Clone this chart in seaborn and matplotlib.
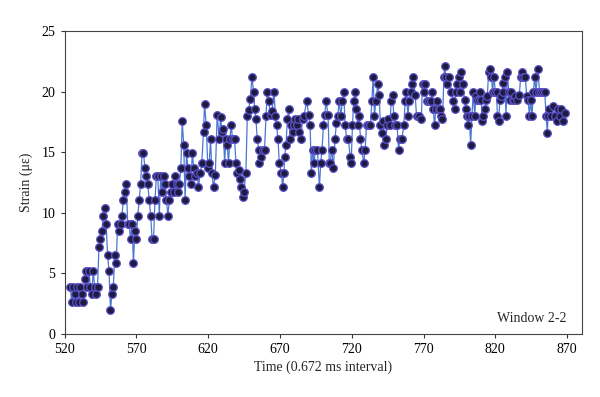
import matplotlib
matplotlib.use("Agg")
import matplotlib.pyplot as plt
import seaborn as sns
import pandas as pd

# ---- data ----
time_a = list(range(524, 612))
strain_a = [3.9, 2.6, 3.9, 3.25, 2.6, 3.9, 2.6, 3.9, 3.25, 2.6,
            4.55, 5.2, 3.9, 5.2, 3.9, 3.25, 5.2, 3.9, 3.25, 3.9,
            7.15, 7.8, 8.45, 9.75, 10.4, 9.1, 6.5, 5.2, 1.95, 3.25,
            3.9, 6.5, 5.85, 9.1, 8.45, 9.1, 9.75, 11.05, 11.7, 12.35,
            9.1, 9.1, 7.8, 9.1, 5.85, 8.45, 7.8, 9.75, 11.05, 12.35,
            14.95, 14.95, 13.65, 13.0, 12.35, 11.05, 9.75, 7.8, 7.8, 11.05,
            13.0, 13.0, 9.75, 13.0, 11.7, 13.0, 12.35, 11.05, 9.75, 11.05,
            11.7, 12.35, 11.7, 13.0, 12.35, 11.7, 12.35, 13.65, 17.55, 15.6,
            11.05, 14.95, 13.65, 13.0, 12.35, 14.95, 13.65, 13.0]

time_b = [612.2, 613.3, 614.5, 615.6, 616.8, 617.5, 618.7, 619.8, 620.8, 621.7,
          622.6, 623.8, 625.0, 626.3, 627.7, 628.7, 629.6, 630.5, 631.5, 632.4,
          633.3, 634.2, 635.2, 636.1, 637.0, 638.4, 639.4, 640.3, 641.2, 642.1,
          643.1, 644.0, 644.9, 646.3, 647.3, 648.2, 649.4, 650.5, 651.7, 652.4,
          653.3, 654.2, 655.2, 655.6, 657.0, 658.4, 659.3, 660.3, 661.2, 662.1,
          663.5, 664.5, 665.9, 666.8, 667.7, 668.6, 669.6, 671.0, 671.9, 672.8,
          673.3, 674.2, 675.2, 676.1, 677.0, 677.9, 678.9, 679.8, 680.7, 681.7,
          682.6, 683.5, 684.5, 685.8, 686.8, 688.6, 690.0, 691.0, 691.9, 692.8,
          693.8, 694.7, 696.1, 697.5, 698.4, 699.3, 700.3, 701.2, 702.1, 703.5,
          704.4]
strain_b = [13.3, 12.1, 13.3, 14.1, 16.7, 19.0, 17.2, 13.7, 14.1, 16.1,
            13.3, 12.1, 13.1, 18.1, 16.1, 17.9, 16.7, 16.9, 14.1, 16.1,
            15.6, 14.1, 16.1, 17.2, 16.1, 16.1, 14.1, 13.3, 13.5, 12.8,
            12.1, 11.3, 11.7, 13.3, 18.0, 18.5, 19.4, 21.2, 20.0, 18.6,
            17.7, 16.1, 15.2, 14.1, 14.6, 15.2, 15.2, 18.0, 20.0, 19.2,
            18.1, 18.4, 20.0, 18.0, 17.2, 16.1, 14.1, 13.3, 12.1, 13.3,
            14.6, 15.6, 17.7, 18.6, 16.1, 17.2, 16.7, 17.2, 17.7, 17.2,
            17.7, 16.7, 16.1, 17.7, 18.0, 19.2, 18.1, 17.2, 13.3, 15.2,
            14.1, 15.2, 15.2, 12.1, 14.1, 15.2, 17.2, 18.1, 19.2, 18.1,
            14.1]

time_c = [704.9, 706.1, 707.2, 708.4, 709.3, 710.3, 711.2, 712.4, 713.5, 714.4,
          715.4, 716.5, 717.7, 718.9, 719.6, 720.5, 721.4, 722.3, 723.3, 724.2,
          725.1, 726.1, 727.0, 728.4, 729.3, 730.3, 731.6, 733.0, 734.0, 734.9,
          735.8, 736.8, 738.2, 739.1, 740.0, 741.0, 741.9, 742.8, 743.7, 744.7,
          745.6, 746.5, 747.5, 748.4, 749.3, 750.2, 751.6, 752.6, 753.5, 754.9,
          756.3, 757.2, 758.1, 759.1, 760.0, 761.0, 761.9, 762.8, 764.2, 765.1,
          766.5, 768.4, 769.3, 770.2, 771.2, 772.6, 773.5, 774.9, 775.8, 776.7,
          777.7, 778.6, 779.5, 780.5, 781.4, 782.3, 783.2, 784.2, 784.6, 785.6,
          786.5, 787.9, 789.3, 790.7, 791.6, 792.5, 793.5, 794.4, 795.3, 796.3,
          797.2]
strain_c = [14.1, 15.2, 13.7, 16.1, 17.4, 18.0, 19.2, 18.0, 19.2, 20.0,
            17.2, 16.1, 16.1, 14.6, 14.1, 17.2, 19.2, 20.0, 18.6, 17.2,
            18.0, 16.1, 15.2, 14.1, 15.2, 17.2, 17.2, 17.2, 19.2, 21.2,
            18.0, 19.2, 20.6, 19.7, 17.2, 16.6, 17.6, 15.6, 16.1, 17.2,
            17.7, 17.2, 19.2, 19.7, 18.0, 17.2, 17.2, 15.2, 16.1, 16.1,
            17.2, 19.2, 20.0, 18.0, 19.2, 20.0, 20.6, 21.2, 19.7, 18.0,
            18.0, 17.7, 20.6, 20.0, 20.6, 19.2, 19.2, 19.2, 20.0, 18.6,
            17.2, 18.6, 19.2, 18.6, 18.6, 18.0, 17.7, 21.2, 22.1, 21.2,
            20.6, 21.2, 20.0, 19.2, 18.6, 20.0, 20.6, 21.2, 20.0, 21.6,
            20.6]

time_d = [798.6, 799.5, 800.4, 800.9, 801.8, 802.8, 803.7, 804.6, 805.6, 806.5,
          807.4, 808.4, 809.3, 810.2, 810.7, 811.6, 812.5, 813.5, 814.4, 815.3,
          816.3, 817.2, 818.1, 819.0, 820.0, 820.9, 821.4, 822.3, 823.2, 824.2,
          825.1, 825.5, 826.5, 827.4, 828.3, 829.3, 830.2, 831.1, 832.1, 833.0,
          833.9, 835.3, 836.7, 837.6, 838.6, 839.5, 840.9, 841.8, 842.8, 843.7,
          844.6, 845.5, 846.5, 847.4, 848.3, 849.7, 850.7, 851.6, 853.0, 854.4,
          855.3, 856.2, 856.7, 857.6, 859.0, 860.0, 861.4, 862.7, 863.7, 865.1,
          866.0, 867.4, 868.3]
strain_d = [19.3, 18.6, 18.0, 17.2, 18.0, 15.6, 18.0, 20.0, 18.0, 19.6,
            19.3, 19.3, 20.0, 19.3, 17.6, 18.0, 18.6, 19.3, 19.6, 21.6,
            21.9, 21.2, 20.0, 21.2, 20.0, 20.0, 18.0, 17.6, 19.3, 19.6,
            20.0, 20.7, 21.2, 18.0, 21.6, 20.0, 19.3, 20.0, 19.3, 19.3,
            19.6, 19.3, 19.7, 21.2, 21.6, 21.2, 21.2, 19.6, 19.3, 18.0,
            19.3, 18.0, 20.0, 21.2, 20.0, 21.9, 20.0, 20.0, 20.0, 20.0,
            18.0, 16.6, 18.0, 18.6, 18.0, 18.8, 18.0, 17.6, 18.6, 18.0,
            18.6, 17.6, 18.2]

x_ticks = [520, 570, 620, 670, 720, 770, 820, 870]
y_ticks = [0, 5, 10, 15, 20, 25]
x_label = "Time (0.672 ms interval)"
y_label = "Strain (με)"
annotation = "Window 2-2"

df = pd.DataFrame({
    "time": time_a + time_b + time_c + time_d,
    "strain": strain_a + strain_b + strain_c + strain_d,
})

sns.set_style("ticks")
plt.rcParams["font.family"] = ["Liberation Serif", "DejaVu Serif"]

fig = plt.figure(figsize=(6.0, 3.97), dpi=100)
ax = fig.add_axes([0.1075, 0.159, 0.8617, 0.763])

sns.lineplot(data=df, x="time", y="strain", ax=ax, sort=False,
             color="#4a78d0", linewidth=0.9,
             marker="o", markersize=5.5, markerfacecolor="#1d1b3f",
             markeredgecolor="#5a50c8", markeredgewidth=0.9)

ax.set_xlim(520, 880)
ax.set_ylim(0, 25)
ax.set_xticks(x_ticks)
ax.set_yticks(y_ticks)
ax.set_xlabel(x_label, fontsize=10, labelpad=3)
ax.set_ylabel(y_label, fontsize=10, labelpad=6)
ax.tick_params(axis="both", labelsize=10, length=3, width=0.8,
               direction="out", colors="#333333", labelcolor="black")
for side in ["left", "bottom", "top", "right"]:
    ax.spines[side].set_visible(True)
    ax.spines[side].set_color("#444444")
    ax.spines[side].set_linewidth(0.8)
ax.text(0.97, 0.03, annotation, transform=ax.transAxes,
        ha="right", va="bottom", fontsize=10)

fig.savefig("out.png", dpi=100)
